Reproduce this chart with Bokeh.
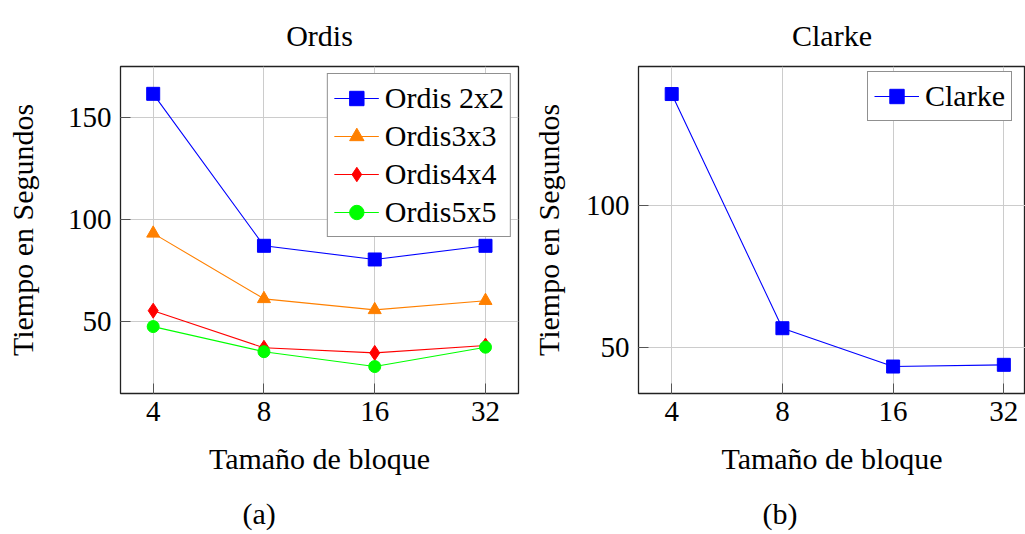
from bokeh.plotting import figure
from bokeh.layouts import row
from bokeh.models import Range1d, FixedTicker, Legend, LegendItem, Title, BasicTickFormatter
from bokeh.embed import file_html
from bokeh.resources import INLINE

# ---- data ----
block_sizes = [4, 8, 16, 32]
ordis_2x2 = [161.5, 87.0, 80.3, 87.0]
ordis_3x3 = [93.1, 61.0, 55.6, 60.1]
ordis_4x4 = [55.2, 37.0, 34.5, 38.1]
ordis_5x5 = [47.4, 35.1, 27.8, 37.3]
clarke = [139.4, 56.9, 43.4, 44.0]

left_yticks = [50, 100, 150]
right_yticks = [50, 100]

FONT = "Liberation Serif"
TXT = "30px"
TICK = "29px"


def style(p, yticks, ylab_standoff):
    p.outline_line_color = "#222222"
    p.outline_line_width = 1.3
    p.background_fill_color = "white"
    p.border_fill_color = "white"
    for ax in (p.xaxis[0], p.yaxis[0]):
        ax.axis_line_color = None
        ax.major_tick_in = 10
        ax.major_tick_out = 0
        ax.minor_tick_line_color = None
        ax.major_tick_line_color = "#555555"
        ax.major_label_text_font = FONT
        ax.major_label_text_font_size = TICK
        ax.major_label_text_color = "black"
        ax.axis_label_text_font = FONT
        ax.axis_label_text_font_size = TXT
        ax.axis_label_text_font_style = "normal"
        ax.axis_label_text_color = "black"
    p.xaxis[0].ticker = FixedTicker(ticks=block_sizes)
    p.xaxis[0].formatter = BasicTickFormatter()
    p.xaxis[0].major_label_standoff = 8
    p.xaxis[0].axis_label_standoff = 18
    p.yaxis[0].ticker = FixedTicker(ticks=yticks)
    p.yaxis[0].major_label_standoff = 9
    p.yaxis[0].axis_label_standoff = ylab_standoff
    p.xgrid[0].ticker = FixedTicker(ticks=block_sizes)
    p.ygrid[0].ticker = FixedTicker(ticks=yticks)
    for g in (p.xgrid[0], p.ygrid[0]):
        g.grid_line_color = "#cccccc"
        g.grid_line_width = 1
    p.title.text_font = FONT
    p.title.text_font_size = TXT
    p.title.text_font_style = "normal"
    p.title.text_color = "black"
    p.title.align = "center"
    p.title.standoff = 30


LEG = dict(label_text_font=FONT, label_text_font_size=TXT, label_text_color="black",
           border_line_color="#222222", border_line_width=1.2, background_fill_alpha=1.0,
           glyph_width=45, glyph_height=36, label_height=36, label_standoff=6,
           spacing=2, padding=6, margin=7)

# ---- left: Ordis ----
p1 = figure(title="Ordis", x_axis_type="log",
            x_range=Range1d(3.26, 39.34), y_range=Range1d(14.6, 174.9),
            frame_width=398, frame_height=327,
            min_border_left=120, min_border_right=7, min_border_top=66, min_border_bottom=141,
            x_axis_label="Tamaño de bloque", y_axis_label="Tiempo en Segundos",
            output_backend="svg", toolbar_location=None)
style(p1, left_yticks, 26)

series = [
    ("Ordis 2x2", ordis_2x2, "#0000ff", "square", 13),
    ("Ordis3x3", ordis_3x3, "#ff8000", "triangle", 13),
    ("Ordis4x4", ordis_4x4, "#ff0000", "diamond", 15),
    ("Ordis5x5", ordis_5x5, "#00ff00", "circle", 12),
]
items = []
for name, ys, col, mk, sz in series:
    l = p1.line(block_sizes, ys, line_color=col, line_width=1.1)
    s = p1.scatter(block_sizes, ys, marker=mk, size=sz, fill_color=col, line_color=col)
    items.append(LegendItem(label=name, renderers=[l, s]))

leg1 = Legend(items=items, location="top_right", **LEG)
p1.add_layout(leg1)

# ---- right: Clarke ----
p2 = figure(title="Clarke", x_axis_type="log",
            x_range=Range1d(3.249, 36.65), y_range=Range1d(33.9, 149.1),
            frame_width=387, frame_height=327,
            min_border_left=113, min_border_right=0, min_border_top=66, min_border_bottom=141,
            x_axis_label="Tamaño de bloque", y_axis_label="Tiempo en Segundos",
            output_backend="svg", toolbar_location=None)
style(p2, right_yticks, 18)
l2 = p2.line(block_sizes, clarke, line_color="#0000ff", line_width=1.1)
s2 = p2.scatter(block_sizes, clarke, marker="square", size=13, fill_color="#0000ff", line_color="#0000ff")
leg2 = Legend(items=[LegendItem(label="Clarke", renderers=[l2, s2])], location=(229, 272), **LEG)
p2.add_layout(leg2)

# captions (a) and (b)
cap1 = Title(text="(a)", align="left", offset=122, text_font=FONT, text_font_size=TXT,
             text_font_style="normal", text_color="black", standoff=34)
cap2 = Title(text="(b)", align="left", offset=124, text_font=FONT, text_font_size=TXT,
             text_font_style="normal", text_color="black", standoff=34)
p1.add_layout(cap1, "below")
p2.add_layout(cap2, "below")

layout = row(p1, p2)
open("out.html", "w").write(file_html(layout, INLINE))
